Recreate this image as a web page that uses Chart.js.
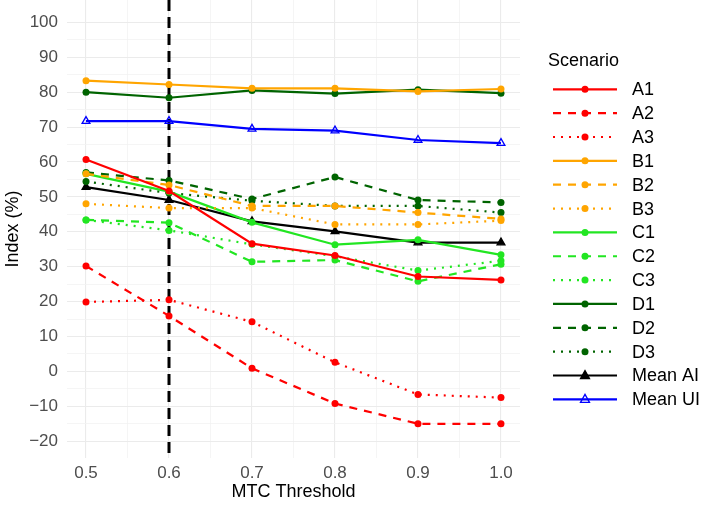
<!DOCTYPE html>
<html>
<head>
<meta charset="utf-8">
<script src="https://cdn.jsdelivr.net/npm/chart.js@4.4.1/dist/chart.umd.min.js"></script>
<style>
html,body{margin:0;padding:0;background:#fff;}
</style>
</head>
<body>
<canvas id="mycanvas" width="709" height="507"></canvas>
<script>
// MTC thresholds (x) and index values (%) per scenario
var thresholds=[0.5,0.6,0.7,0.8,0.9,1.0];
var A1=[60.7,51.7,36.6,33.2,27.2,26.2];
var A2=[30.2,15.9,0.9,-9.2,-15.0,-15.0];
var A3=[19.9,20.5,14.2,2.6,-6.6,-7.5];
var B1=[83.3,82.2,81.1,81.1,80.2,80.9];
var B2=[56.6,53.4,47.4,47.4,45.5,43.7];
var B3=[48.0,46.8,46.8,42.1,42.1,43.2];
var C1=[56.6,51.5,42.7,36.3,37.7,33.4];
var C2=[43.4,42.6,31.4,31.9,25.8,30.7];
var C3=[43.4,40.4,36.4,33.0,28.9,31.7];
var D1=[80.0,78.4,80.5,79.6,80.7,79.7];
var D2=[57.0,54.7,49.4,55.7,49.1,48.4];
var D3=[54.4,51.1,48.9,47.4,47.4,45.5];
var meanAI=[52.8,49.1,43.0,40.1,36.9,36.9];
var meanUI=[71.7,71.7,69.5,69.0,66.3,65.4];
var cutoff=0.6;

var FONT='"Liberation Sans", Arial, sans-serif';
var RED='#FF0000', ORANGE='#FFA500', GREEN='#22E622', DKGREEN='#006400';
var DASH=[8,7], DOT=[2,6];

function pts(vals){
	var out=[];
	for(var i=0;i<thresholds.length;i++){
		out.push({x:thresholds[i],y:vals[i]});
	}
	return out;
}
function series(label,vals,color,dash,shape,fill){
	return {
		label:label,
		data:pts(vals),
		borderColor:color,
		backgroundColor:color,
		borderWidth:2.2,
		borderDash:dash,
		pointStyle:shape||'circle',
		pointRadius:shape?4.5:3.5,
		pointBackgroundColor:fill||color,
		pointBorderColor:color,
		pointBorderWidth:shape?1.3:0,
		tension:0,
		fill:false
	};
}

var datasets=[
	series('A1',A1,RED,[]),
	series('A2',A2,RED,DASH),
	series('A3',A3,RED,DOT),
	series('B1',B1,ORANGE,[]),
	series('B2',B2,ORANGE,DASH),
	series('B3',B3,ORANGE,DOT),
	series('C1',C1,GREEN,[]),
	series('C2',C2,GREEN,DASH),
	series('C3',C3,GREEN,DOT),
	series('D1',D1,DKGREEN,[]),
	series('D2',D2,DKGREEN,DASH),
	series('D3',D3,DKGREEN,DOT),
	series('Mean AI',meanAI,'#000000',[],'triangle','#000000'),
	series('Mean UI',meanUI,'#0000FF',[],'triangle','rgba(0,0,0,0)')
];

// vertical dashed line at the chosen threshold
var cutoffLine={
	id:'cutoffLine',
	beforeDatasetsDraw:function(chart){
		var ctx=chart.ctx, a=chart.chartArea;
		var x=chart.scales.x.getPixelForValue(cutoff);
		ctx.save();
		ctx.strokeStyle='#000';
		ctx.lineWidth=3;
		ctx.setLineDash([11,6]);
		ctx.beginPath();
		ctx.moveTo(x,a.top);
		ctx.lineTo(x,a.bottom);
		ctx.stroke();
		ctx.restore();
	}
};

// ggplot-like legend on the right
var scenarioLegend={
	id:'scenarioLegend',
	afterDraw:function(chart){
		var ctx=chart.ctx;
		ctx.save();
		ctx.font='18px '+FONT;
		ctx.textBaseline='middle';
		ctx.fillStyle='#000';
		ctx.fillText('Scenario',548,61);
		chart.data.datasets.forEach(function(ds,i){
			var y=89.3+i*23.85;
			ctx.strokeStyle=ds.borderColor;
			ctx.lineWidth=2.2;
			ctx.setLineDash(ds.borderDash);
			ctx.beginPath();
			ctx.moveTo(553,y);
			ctx.lineTo(617,y);
			ctx.stroke();
			ctx.setLineDash([]);
			ctx.fillStyle=ds.pointBackgroundColor;
			ctx.strokeStyle=ds.pointBorderColor;
			ctx.lineWidth=1.3;
			if(ds.pointStyle==='triangle'){
				ctx.beginPath();
				ctx.moveTo(585,y-5);
				ctx.lineTo(589.5,y+3);
				ctx.lineTo(580.5,y+3);
				ctx.closePath();
				ctx.fill();
				ctx.stroke();
			}else{
				ctx.beginPath();
				ctx.arc(585,y,3.5,0,Math.PI*2);
				ctx.fill();
			}
			ctx.fillStyle='#000';
			ctx.fillText(ds.label,632,y+1);
		});
		ctx.restore();
	}
};

function isMajor(v,step){
	var k=Math.round(v*1000)/ (step*1000);
	return Math.abs(k-Math.round(k))<1e-6;
}

var ctx=document.getElementById('mycanvas');
var lineGraph=new Chart(ctx,{
	type:'line',
	data:{datasets:datasets},
	options:{
		responsive:false,
		animation:false,
		devicePixelRatio:1,
		layout:{autoPadding:false,padding:{top:0,right:189,bottom:0,left:0}},
		plugins:{legend:{display:false},tooltip:{enabled:false}},
		scales:{
			x:{
				type:'linear',
				min:0.4771,
				max:1.0229,
				afterBuildTicks:function(scale){
					var t=[];
					for(var i=0;i<=10;i++) t.push({value:(50+5*i)/100});
					scale.ticks=t;
				},
				afterFit:function(scale){scale.height=49;scale.paddingLeft=0;scale.paddingRight=0;},
				border:{display:false},
				grid:{
					drawTicks:false,
					color:function(c){return c.tick&&isMajor(c.tick.value,0.1)?'#EBEBEB':'#F3F3F3';},
					lineWidth:function(c){return c.tick&&isMajor(c.tick.value,0.1)?1.1:0.8;}
				},
				ticks:{
					autoSkip:false,
					maxRotation:0,
					padding:5,
					color:'#4D4D4D',
					font:{family:FONT,size:17},
					callback:function(v){return isMajor(v,0.1)?v.toFixed(1):'';}
				},
				title:{display:true,text:'MTC Threshold',color:'#000',font:{family:FONT,size:18},padding:{top:0,bottom:4}}
			},
			y:{
				type:'linear',
				min:-24.8,
				max:106.4,
				afterBuildTicks:function(scale){
					var t=[];
					for(var v=-20;v<=100;v+=5) t.push({value:v});
					scale.ticks=t;
				},
				afterFit:function(scale){scale.width=67;scale.paddingTop=0;scale.paddingBottom=0;},
				border:{display:false},
				grid:{
					drawTicks:false,
					color:function(c){return c.tick&&c.tick.value%10===0?'#EBEBEB':'#F3F3F3';},
					lineWidth:function(c){return c.tick&&c.tick.value%10===0?1.1:0.8;}
				},
				ticks:{
					autoSkip:false,
					padding:9,
					color:'#4D4D4D',
					font:{family:FONT,size:17},
					callback:function(v){return v%10===0?String(v).replace('-','\u2212'):'';}
				},
				title:{display:true,text:'Index (%)',color:'#000',font:{family:FONT,size:18},padding:{top:2,bottom:0}}
			}
		}
	},
	plugins:[cutoffLine,scenarioLegend]
});
</script>
</body>
</html>
